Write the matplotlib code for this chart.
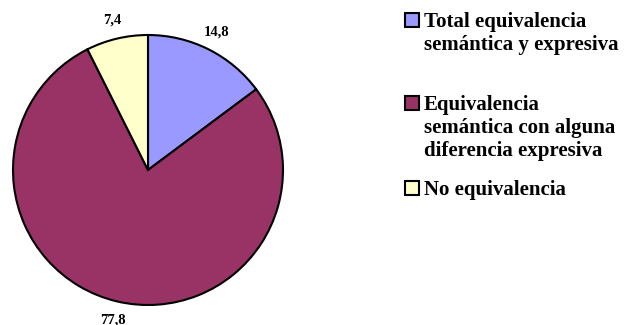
import numpy as np
import matplotlib
matplotlib.use("Agg")
import matplotlib.pyplot as plt
from matplotlib.patches import Rectangle

# Data
categories = ["Total equivalencia\nsemántica y expresiva",
              "Equivalencia\nsemántica con alguna\ndiferencia expresiva",
              "No equivalencia"]
values = [14.8, 77.8, 7.4]
value_labels = ["14,8", "77,8", "7,4"]
colors = ["#9999FF", "#993366", "#FFFFCC"]

plt.rcParams['font.family'] = ['Liberation Serif', 'DejaVu Serif']

W, H = 625, 325
fig = plt.figure(figsize=(W / 100, H / 100), dpi=100)

# pie centre (148,170) px, radius 135 px
cx, cy, r = 148, 170, 135
ax = fig.add_axes([(cx - r) / W, (H - cy - r) / H, 2 * r / W, 2 * r / H])
wedges, _ = ax.pie(values, colors=colors, startangle=90, counterclock=False,
                   radius=1, wedgeprops=dict(edgecolor="black", linewidth=1.5))
ax.set_xlim(-1, 1)
ax.set_ylim(-1, 1)
ax.set_aspect("equal")
ax.axis("off")

# value labels outside each slice
for w, lab in zip(wedges, value_labels):
    mid = np.deg2rad((w.theta1 + w.theta2) / 2)
    ax.text(1.14 * np.cos(mid), 1.14 * np.sin(mid), lab, ha="center", va="center",
            fontsize=10.5, fontweight="bold", clip_on=False)

# legend drawn by hand (Excel-style); y = centre of first text line in px
legend_rows = [20, 103, 188]
for lab, col, yc in zip(categories, colors, legend_rows):
    fig.patches.append(Rectangle((405 / W, 1 - (yc + 7) / H), 14 / W, 14 / H,
                                 transform=fig.transFigure, facecolor=col,
                                 edgecolor="black", linewidth=1.5))
    fig.text(424 / W, 1 - (yc - 8) / H, lab, ha="left", va="top",
             fontsize=15, fontweight="bold", linespacing=1.2)

fig.savefig("out.png", dpi=100)
